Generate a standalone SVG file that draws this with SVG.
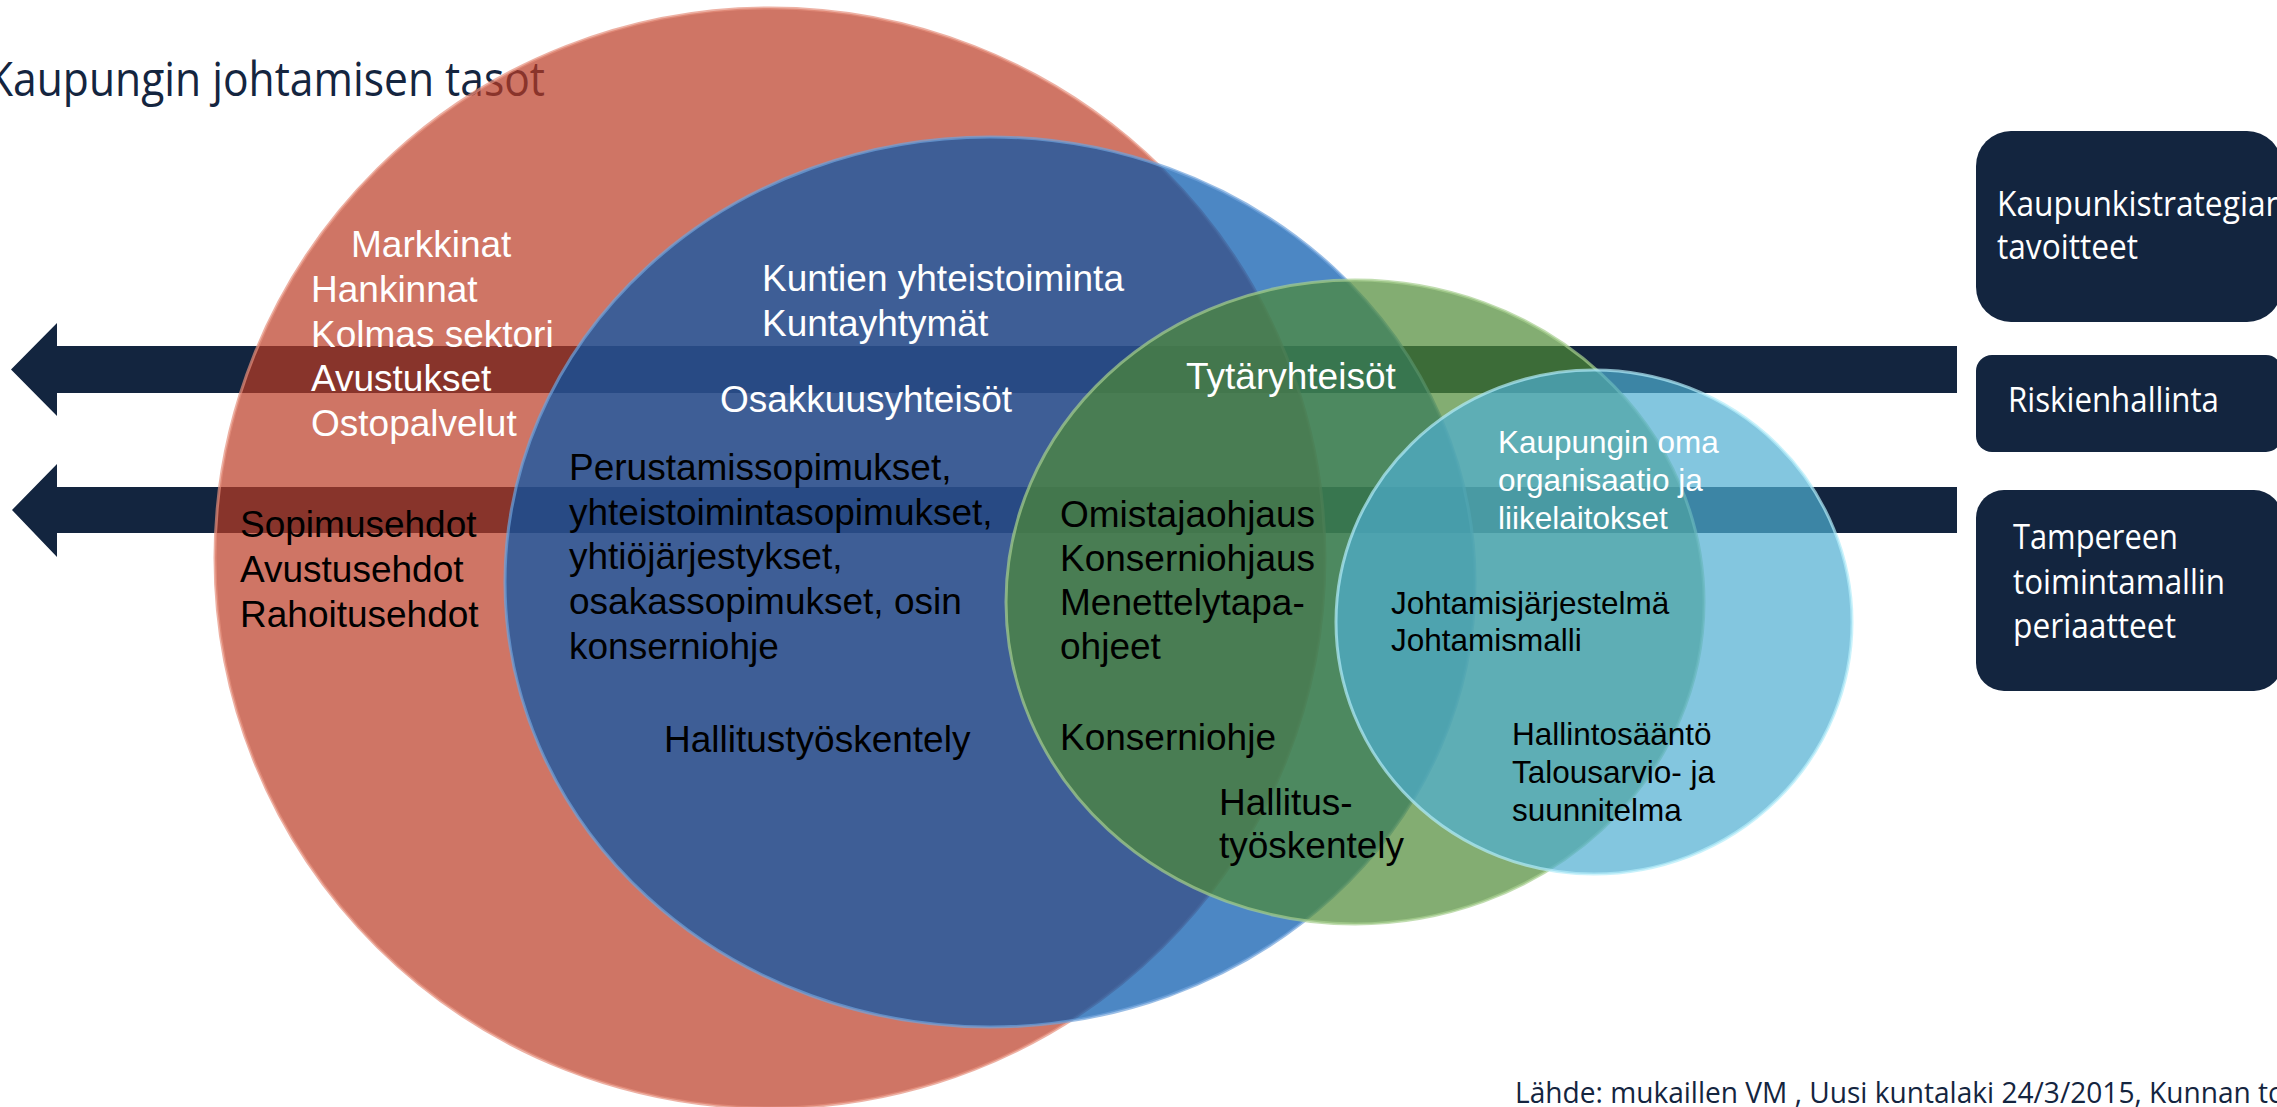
<svg xmlns="http://www.w3.org/2000/svg" width="2277" height="1107" viewBox="0 0 2277 1107">
  <style>
    .lbl { font-family: 'Liberation Sans', Arial, sans-serif; font-size: 37px; }
    .sm { font-size: 31.5px; }
    .w { fill: #ffffff; }
    .k { fill: #000000; }
    .hum { font-family: 'Open Sans', 'Noto Sans', sans-serif; }
    .boxtxt { font-family: 'Open Sans', 'Noto Sans', sans-serif; font-size: 35px; fill: #ffffff; }
    .box { fill: #13253f; }
    .ring { fill-opacity: 0.7; stroke-width: 3; stroke-opacity: 0.7; }
  </style>

  <rect width="2277" height="1107" fill="#ffffff"/>

  <!-- heading -->
  <g id="title">
    <text x="-13" y="96" class="hum" font-size="47" fill="#14253f" textLength="558" lengthAdjust="spacingAndGlyphs">Kaupungin johtamisen tasot</text>
  </g>

  <!-- steering arrows running from the principle boxes to the left edge -->
  <g id="connectors" fill="#13253f">
    <polygon points="11,369.5 57,323 57,346 1957,346 1957,393 57,393 57,416"/>
    <polygon points="12,510 57,464 57,487 1957,487 1957,533 57,533 57,557"/>
  </g>

  <!-- outer level: markets and contracting -->
  <g id="level-markets">
    <ellipse class="ring" cx="770" cy="558" rx="555" ry="550" fill="#ba3a23" stroke="#e6907d"/>
    <text class="lbl w" x="351" y="257">Markkinat</text>
    <text class="lbl w" x="311" y="302">Hankinnat</text>
    <text class="lbl w" x="311" y="347">Kolmas sektori</text>
    <text class="lbl w" x="311" y="391">Avustukset</text>
    <text class="lbl w" x="311" y="436">Ostopalvelut</text>
    <text class="lbl k" x="240" y="537">Sopimusehdot</text>
    <text class="lbl k" x="240" y="582">Avustusehdot</text>
    <text class="lbl k" x="240" y="627">Rahoitusehdot</text>
  </g>

  <!-- municipal cooperation and associated companies -->
  <g id="level-cooperation">
    <ellipse class="ring" cx="990" cy="582" rx="485" ry="445" fill="#0054ab" stroke="#6fa3dc"/>
    <text class="lbl w" x="762" y="291">Kuntien yhteistoiminta</text>
    <text class="lbl w" x="762" y="336">Kuntayhtymät</text>
    <text class="lbl w" x="720" y="412">Osakkuusyhteisöt</text>
    <text class="lbl k" x="569" y="480">Perustamissopimukset,</text>
    <text class="lbl k" x="569" y="525">yhteistoimintasopimukset,</text>
    <text class="lbl k" x="569" y="569">yhtiöjärjestykset,</text>
    <text class="lbl k" x="569" y="614">osakassopimukset, osin</text>
    <text class="lbl k" x="569" y="659">konserniohje</text>
    <text class="lbl k" x="664" y="752">Hallitustyöskentely</text>
  </g>

  <!-- subsidiaries -->
  <g id="level-subsidiaries">
    <ellipse class="ring" cx="1355" cy="602" rx="349" ry="322" fill="#4f8a36" stroke="#a6cf8f"/>
    <text class="lbl w" x="1186" y="389">Tytäryhteisöt</text>
    <text class="lbl k" x="1060" y="527">Omistajaohjaus</text>
    <text class="lbl k" x="1060" y="571">Konserniohjaus</text>
    <text class="lbl k" x="1060" y="615">Menettelytapa-</text>
    <text class="lbl k" x="1060" y="659">ohjeet</text>
    <text class="lbl k" x="1060" y="750">Konserniohje</text>
    <text class="lbl k" x="1219" y="815">Hallitus-</text>
    <text class="lbl k" x="1219" y="858">työskentely</text>
  </g>

  <!-- the city's own organisation -->
  <g id="level-own-organisation">
    <ellipse class="ring" cx="1594" cy="622" rx="258" ry="252" fill="#4eaed1" stroke="#b4ecfa"/>
    <text class="lbl sm w" x="1498" y="453">Kaupungin oma</text>
    <text class="lbl sm w" x="1498" y="491">organisaatio ja</text>
    <text class="lbl sm w" x="1498" y="529">liikelaitokset</text>
    <text class="lbl sm k" x="1391" y="614">Johtamisjärjestelmä</text>
    <text class="lbl sm k" x="1391" y="651">Johtamismalli</text>
    <text class="lbl sm k" x="1512" y="745">Hallintosääntö</text>
    <text class="lbl sm k" x="1512" y="783">Talousarvio- ja</text>
    <text class="lbl sm k" x="1512" y="821">suunnitelma</text>
  </g>

  <!-- guiding principles -->
  <g id="box-strategy">
    <rect class="box" x="1976" y="131" width="306" height="191" rx="35"/>
    <text class="boxtxt" x="1997" y="216" textLength="288" lengthAdjust="spacingAndGlyphs">Kaupunkistrategian</text>
    <text class="boxtxt" x="1997" y="259" textLength="141" lengthAdjust="spacingAndGlyphs">tavoitteet</text>
  </g>
  <g id="box-risk">
    <rect class="box" x="1976" y="355" width="306" height="97" rx="16"/>
    <text class="boxtxt" x="2008" y="412" textLength="211" lengthAdjust="spacingAndGlyphs">Riskienhallinta</text>
  </g>
  <g id="box-operating-model">
    <rect class="box" x="1976" y="490" width="306" height="201" rx="28"/>
    <text class="boxtxt" x="2013" y="549" textLength="165" lengthAdjust="spacingAndGlyphs">Tampereen</text>
    <text class="boxtxt" x="2013" y="594" textLength="212" lengthAdjust="spacingAndGlyphs">toimintamallin</text>
    <text class="boxtxt" x="2013" y="638" textLength="163" lengthAdjust="spacingAndGlyphs">periaatteet</text>
  </g>

  <!-- source -->
  <g id="source">
    <text x="1515" y="1103" class="hum" font-size="29" fill="#14253f" textLength="770" lengthAdjust="spacingAndGlyphs">Lähde: mukaillen VM , Uusi kuntalaki 24/3/2015, Kunnan to</text>
  </g>
</svg>
